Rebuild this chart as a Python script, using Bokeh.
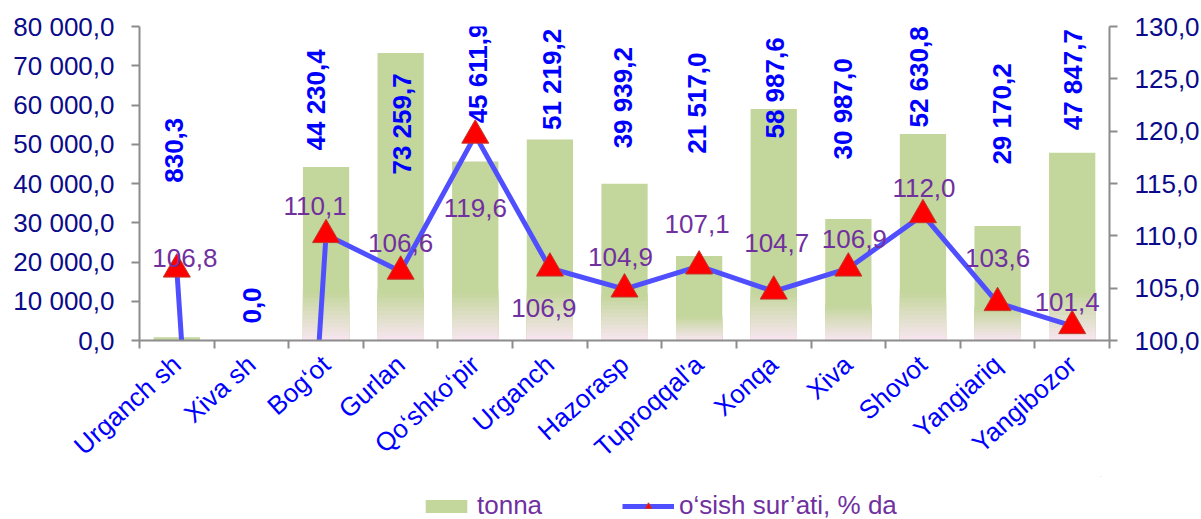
import math
from bokeh.plotting import figure
from bokeh.layouts import column
from bokeh.models import (Range1d, LinearAxis, FixedTicker, ColumnDataSource,
                          Legend, LegendItem)
from bokeh.core.properties import value
from bokeh.embed import file_html
from bokeh.resources import INLINE

# ---------------- data ----------------
districts = ["Urganch sh", "Xiva sh", "Bog\u2018ot", "Gurlan", "Qo\u2018shko\u2018pir",
             "Urganch", "Hazorasp", "Tuproqqal'a", "Xonqa", "Xiva", "Shovot",
             "Yangiariq", "Yangibozor"]
tonna = [830.3, 0.0, 44230.4, 73259.7, 45611.9, 51219.2, 39939.2, 21517.0,
         58987.6, 30987.0, 52630.8, 29170.2, 47847.7]
growth = [106.8, 0.0, 110.1, 106.6, 119.6, 106.9, 104.9, 107.1, 104.7, 106.9,
          112.0, 103.6, 101.4]
left_ticks = [0, 10000, 20000, 30000, 40000, 50000, 60000, 70000, 80000]
right_ticks = [100, 105, 110, 115, 120, 125, 130]
series_names = ["tonna", "o\u2018sish sur\u2019ati, % da"]

# ---------------- layout / style ----------------
FONT = value("Liberation Sans")
GREEN = (195, 214, 155)
PINK = (246, 229, 237)
BAR_W = 0.62
LINE_COLOR = "#4f4fff"
LABEL_PURPLE = "#7030a0"
MARK_FILL = "#ff0000"
MARK_LINE = "#c0392b"

# label nudges (screen px) relative to their data point
bar_label_dx = [-3, 1, -10, 1, 3, 2, -2, -2, 1, -5, -4, 4, 1]
bar_label_dy = [-187, -35, -67, 71, -88, -60, -86, -153, -21, -110, -57, -112, -73]
line_label_dx = [8, 0, -11, 0, 0, -6, -4, -2, 3, 6, 1, 0, -5]
line_label_dy = [-11, 0, -29, -28, 73, 40, -32, -42, -48, -29, -27, -45, -24]


def fmt(v):
    return f"{v:,.1f}".replace(",", " ").replace(".", ",")


def hexc(c):
    return "#%02x%02x%02x" % tuple(int(round(x)) for x in c)


n = len(districts)
xs = list(range(n))

p = figure(frame_width=970, frame_height=314,
           x_range=Range1d(-0.5, n - 0.5), y_range=Range1d(0, 80000),
           output_backend="svg", toolbar_location=None,
           min_border_left=139, min_border_right=84, min_border_top=26,
           min_border_bottom=0)
p.outline_line_color = None
p.xgrid.visible = False
p.ygrid.visible = False
p.extra_y_ranges = {"pct": Range1d(100, 130)}

# ---- bars with a soft gradient at the base ----
p.vbar(x=xs, top=tonna, bottom=0, width=BAR_W, fill_color=hexc(GREEN), line_color=None)
steps = 12
for k in range(steps - 1, -1, -1):
    t = k / (steps - 1)
    col = hexc(tuple(PINK[j] + (GREEN[j] - PINK[j]) * t for j in range(3)))
    tops = [min(0.3 * v, 13000) * (k + 1) / steps for v in tonna]
    p.vbar(x=xs, top=tops, bottom=0, width=BAR_W, fill_color=col, line_color=None)

# ---- growth line ----
p.line(xs, growth, y_range_name="pct", line_color=LINE_COLOR, line_width=5)
p.scatter(xs, growth, y_range_name="pct", marker="triangle", size=27,
          fill_color=MARK_FILL, line_color=MARK_LINE, line_width=1)

# ---- bar value labels ----
bar_src = ColumnDataSource(dict(x=xs, y=tonna, t=[fmt(v) for v in tonna],
                                dx=bar_label_dx, dy=bar_label_dy))
p.text(x="x", y="y", text="t", source=bar_src, angle=math.pi / 2,
       x_offset="dx", y_offset="dy", text_align="center", text_baseline="middle",
       text_font=FONT, text_font_size="26px", text_font_style="bold",
       text_color="#0000ff")

# ---- line value labels ----
idx = [i for i in xs if growth[i] > 0]
line_src = ColumnDataSource(dict(x=[xs[i] for i in idx], y=[growth[i] for i in idx],
                                 t=[fmt(growth[i]) for i in idx],
                                 dx=[line_label_dx[i] for i in idx],
                                 dy=[line_label_dy[i] for i in idx]))
p.text(x="x", y="y", text="t", source=line_src, y_range_name="pct",
       x_offset="dx", y_offset="dy", text_align="center", text_baseline="middle",
       text_font=FONT, text_font_size="26px", text_color=LABEL_PURPLE)

# ---- axes ----
AX_COL = "#8c8c8c"
ly = p.yaxis[0]
ly.ticker = FixedTicker(ticks=left_ticks)
ly.major_label_overrides = {t: fmt(t) for t in left_ticks}

ry = LinearAxis(y_range_name="pct")
ry.ticker = FixedTicker(ticks=right_ticks)
ry.major_label_overrides = {t: fmt(t) for t in right_ticks}
p.add_layout(ry, "right")

for ax in (ly, ry):
    ax.axis_line_color = AX_COL
    ax.axis_line_width = 2
    ax.major_tick_line_color = AX_COL
    ax.major_tick_line_width = 2
    ax.major_tick_out = 8
    ax.major_tick_in = 0
    ax.minor_tick_line_color = None
    ax.major_label_text_font = "Liberation Sans"
    ax.major_label_text_font_size = "26px"
    ax.major_label_text_color = "#0a0a8a"
    ax.major_label_standoff = 17

bx = p.xaxis[0]
bx.ticker = FixedTicker(ticks=xs, minor_ticks=[i - 0.5 for i in range(n + 1)])
bx.major_label_overrides = {i: districts[i] for i in xs}
bx.major_label_orientation = math.radians(42)
bx.major_label_text_font = "Liberation Sans"
bx.major_label_text_font_size = "26px"
bx.major_label_text_color = "#0000ff"
bx.axis_line_color = AX_COL
bx.axis_line_width = 2
bx.major_tick_line_color = None
bx.minor_tick_line_color = AX_COL
bx.minor_tick_line_width = 2
bx.minor_tick_out = 8
bx.minor_tick_in = 0
bx.major_label_standoff = 12

# ---- legend strip (separate small figure below the chart) ----
# Its own series renderers fall entirely outside its (legend-only) view ranges.
lg = figure(width=1193, height=45, x_axis_type=None, y_axis_type=None,
            x_range=Range1d(-300, -299), y_range=Range1d(-300, -299),
            output_backend="svg", toolbar_location=None, min_border=0)
lg.outline_line_color = None
lg.xgrid.visible = False
lg.ygrid.visible = False
leg_bar = lg.vbar(x=xs, top=tonna, bottom=0, width=BAR_W,
                  fill_color=hexc(GREEN), line_color=None)
leg_line = lg.line(xs, growth, line_color=LINE_COLOR, line_width=5)
leg_mark = lg.scatter(xs, growth, marker="triangle", size=18,
                      fill_color=MARK_FILL, line_color=MARK_LINE, line_width=1)
legend = Legend(items=[LegendItem(label=series_names[0], renderers=[leg_bar]),
                       LegendItem(label=series_names[1], renderers=[leg_line, leg_mark])],
                orientation="horizontal", location=(281, 0),
                glyph_width=52, glyph_height=16, label_standoff=5, spacing=80,
                padding=0, margin=0, border_line_color=None,
                background_fill_alpha=0,
                label_text_font="Liberation Sans", label_text_font_size="26px",
                label_text_color=LABEL_PURPLE)
lg.add_layout(legend)

layout = column(p, lg, spacing=0)
open("out.html", "w").write(file_html(layout, INLINE))
